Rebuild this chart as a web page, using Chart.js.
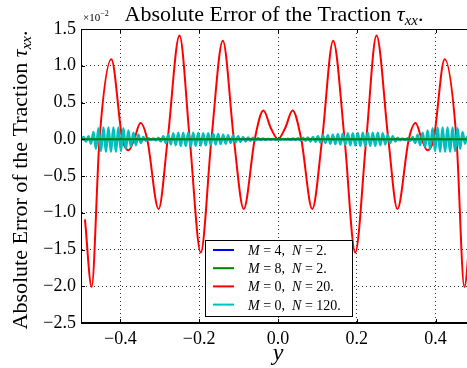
<!DOCTYPE html>
<html>
<head>
<meta charset="utf-8">
<script src="https://cdn.jsdelivr.net/npm/chart.js@4/dist/chart.umd.min.js"></script>
<style>
  html, body { margin: 0; padding: 0; background: #fff; overflow: hidden; }
  #wrap { position: absolute; left: 0; top: 0; width: 490px; height: 368px; }
</style>
</head>
<body>
<div id="wrap"><canvas id="chart" width="490" height="368"></canvas></div>
<script>
// ticks
const xTicks = [-0.4, -0.2, 0.0, 0.2, 0.4];
const yTicks = [-2.5, -2.0, -1.5, -1.0, -0.5, 0.0, 0.5, 1.0, 1.5];

// series (values x 1e-2)
const flatX = [-0.5, -0.25, 0.0, 0.25, 0.5];
const blueY = [0.0, 0.0, 0.0, 0.0, 0.0];
const greenY = [0.0, 0.0, 0.0, 0.0, 0.0];

const redX = [-0.49, -0.473, -0.453, -0.423, -0.395, -0.379, -0.365, -0.349, -0.332, -0.303,
  -0.280, -0.250, -0.224, -0.196, -0.169, -0.140, -0.112, -0.087, -0.059, -0.037, -0.018, 0.0,
  0.018, 0.037, 0.059, 0.087, 0.112, 0.140, 0.169, 0.196, 0.224, 0.250, 0.280, 0.303, 0.332,
  0.349, 0.365, 0.379, 0.395, 0.423, 0.453, 0.473, 0.49];
const redY = [-1.09, -2.01, 0.0, 1.09, 0.0, -0.15, 0.0, 0.22, 0.0, -0.95,
  0.0, 1.41, 0.0, -1.54, 0.0, 1.34, 0.0, -0.95, 0.0, 0.39, 0.15, 0.0,
  0.15, 0.39, 0.0, -0.95, 0.0, 1.34, 0.0, -1.54, 0.0, 1.41, 0.0, -0.95, 0.0,
  0.22, 0.0, -0.15, 0.0, 1.09, 0.0, -2.01, -1.09];

// cyan: peaks/troughs read every half period, from x = -0.5 to 0.5
const cyanStart = -0.5;
const cyanStep = 1 / 158;
const cyanY = [
  0.0, 0.03, -0.03, 0.04, -0.06, 0.10, -0.13, 0.15, -0.16, 0.16,
  -0.17, 0.16, -0.17, 0.16, -0.17, 0.16, -0.16, 0.15, -0.13, 0.12,
  -0.10, 0.09, -0.08, 0.06, -0.05, 0.03, -0.02, 0.015, -0.01, 0.01,
  -0.015, 0.02, -0.03, 0.04, -0.05, 0.06, -0.07, 0.08, -0.08, 0.09,
  -0.09, 0.09, -0.09, 0.09, -0.09, 0.09, -0.09, 0.085, -0.085, 0.08,
  -0.08, 0.08, -0.075, 0.075, -0.07, 0.07, -0.065, 0.06, -0.06, 0.055,
  -0.05, 0.05, -0.045, 0.04, -0.035, 0.03, -0.03, 0.025, -0.02, 0.02,
  -0.015, 0.012, -0.01, 0.01, -0.008, 0.006, -0.005, 0.005, -0.004, 0.0,
  -0.004, 0.005, -0.005, 0.006, -0.008, 0.01, -0.01, 0.012, -0.015, 0.02,
  -0.02, 0.025, -0.03, 0.03, -0.035, 0.04, -0.045, 0.05, -0.05, 0.055,
  -0.06, 0.06, -0.065, 0.07, -0.07, 0.075, -0.075, 0.08, -0.08, 0.08,
  -0.085, 0.085, -0.09, 0.09, -0.09, 0.09, -0.09, 0.09, -0.09, 0.09,
  -0.08, 0.08, -0.07, 0.06, -0.05, 0.04, -0.03, 0.02, -0.015, 0.01,
  -0.01, 0.015, -0.02, 0.03, -0.05, 0.06, -0.08, 0.09, -0.10, 0.12,
  -0.13, 0.15, -0.16, 0.16, -0.17, 0.16, -0.17, 0.16, -0.17, 0.16,
  -0.16, 0.15, -0.13, 0.10, -0.06, 0.04, -0.03, 0.03, 0.0
];

const serif = "'Liberation Serif', 'Times New Roman', serif";

function pts(xs, ys) {
  return ys.map((y, i) => ({ x: xs[i], y: y }));
}
const cyanPts = cyanY.map((y, i) => ({ x: cyanStart + i * cyanStep, y: y }));

// draw a run of text pieces with different fonts
function richWidth(ctx, parts) {
  let w = 0;
  parts.forEach(p => { ctx.font = p.font; w += ctx.measureText(p.t).width; });
  return w;
}
function drawRich(ctx, parts, x, y, align) {
  let w = richWidth(ctx, parts);
  let cx = align === "center" ? x - w / 2 : x;
  ctx.textAlign = "left";
  ctx.textBaseline = "alphabetic";
  parts.forEach(p => {
    ctx.font = p.font;
    ctx.fillText(p.t, cx, y + (p.dy || 0));
    cx += ctx.measureText(p.t).width;
  });
}

const titleParts = [
  { t: "Absolute Error of the Traction ", font: "22px " + serif },
  { t: "τ", font: "italic 22px " + serif },
  { t: "xx", font: "italic 15px " + serif, dy: 4 },
  { t: ".", font: "22px " + serif }
];

const legendItems = [
  { color: "#0000ff", m: "4", n: "2." },
  { color: "#008000", m: "8", n: "2." },
  { color: "#ff0000", m: "0", n: "20." },
  { color: "#00bfbf", m: "0", n: "120." }
];

const decorPlugin = {
  id: "decor",
  afterDraw(chart) {
    const ctx = chart.ctx;
    const a = chart.chartArea;
    const xs = chart.scales.x, ys = chart.scales.y;
    ctx.save();
    ctx.fillStyle = "#000";
    ctx.strokeStyle = "#000";

    // frame
    ctx.lineWidth = 1;
    ctx.strokeRect(a.left + 0.5, a.top + 0.5, a.right - a.left - 1, a.bottom - a.top - 1);

    // inward ticks
    ctx.beginPath();
    xTicks.forEach(v => {
      const px = Math.round(xs.getPixelForValue(v)) + 0.5;
      ctx.moveTo(px, a.bottom); ctx.lineTo(px, a.bottom - 4);
      ctx.moveTo(px, a.top); ctx.lineTo(px, a.top + 4);
    });
    yTicks.forEach(v => {
      const py = Math.round(ys.getPixelForValue(v)) + 0.5;
      ctx.moveTo(a.left, py); ctx.lineTo(a.left + 4, py);
      ctx.moveTo(a.right, py); ctx.lineTo(a.right - 4, py);
    });
    ctx.stroke();

    // title
    drawRich(ctx, titleParts, 274, 21, "center");

    // y axis label
    ctx.save();
    ctx.translate(27, (a.top + a.bottom) / 2 + 4);
    ctx.rotate(-Math.PI / 2);
    drawRich(ctx, titleParts, 0, 0, "center");
    ctx.restore();

    // x axis label
    ctx.font = "italic 24px " + serif;
    ctx.textAlign = "center";
    ctx.fillText("y", 278, 360);

    // offset text
    drawRich(ctx, [
      { t: "×10", font: "11px " + serif },
      { t: "−2", font: "8px " + serif, dy: -5 }
    ], a.left + 2, 21, "left");

    // legend
    const bx = 205.5, by = 240.5, bw = 147, bh = 76;
    ctx.fillStyle = "#fff";
    ctx.fillRect(bx, by, bw, bh);
    ctx.strokeStyle = "#000";
    ctx.lineWidth = 1;
    ctx.strokeRect(bx, by, bw, bh);
    legendItems.forEach((it, i) => {
      const ry = 250 + i * 18.2;
      ctx.strokeStyle = it.color;
      ctx.lineWidth = 2;
      ctx.beginPath();
      ctx.moveTo(213, ry); ctx.lineTo(234, ry);
      ctx.stroke();
      ctx.fillStyle = "#000";
      drawRich(ctx, [
        { t: "M", font: "italic 14px " + serif },
        { t: " = " + it.m + ",  ", font: "14px " + serif },
        { t: "N", font: "italic 14px " + serif },
        { t: " = " + it.n, font: "14px " + serif }
      ], 248, ry + 5, "left");
    });
    ctx.restore();
  }
};

const fmt = v => v.toFixed(1).replace("-", "−");

new Chart(document.getElementById("chart"), {
  type: "line",
  data: {
    datasets: [
      { label: "M = 4, N = 2.", data: pts(flatX, blueY), borderColor: "#0000ff", borderWidth: 2, order: 4 },
      { label: "M = 8, N = 2.", data: pts(flatX, greenY), borderColor: "#008000", borderWidth: 2, order: 1 },
      { label: "M = 0, N = 20.", data: pts(redX, redY), borderColor: "#ff0000", borderWidth: 2, order: 3 },
      { label: "M = 0, N = 120.", data: cyanPts, borderColor: "#00bfbf", borderWidth: 2.5, order: 2 }
    ]
  },
  options: {
    responsive: false,
    animation: false,
    layout: { padding: { left: 0, right: 15, top: 29, bottom: 0 } },
    elements: {
      point: { radius: 0 },
      line: { cubicInterpolationMode: "monotone", fill: false }
    },
    plugins: { legend: { display: false }, title: { display: false }, tooltip: { enabled: false } },
    scales: {
      x: {
        type: "linear",
        min: -0.5,
        max: 0.5,
        afterBuildTicks: s => { s.ticks = xTicks.map(v => ({ value: v })); },
        afterFit: s => { s.height = 45; },
        ticks: { callback: fmt, color: "#000", font: { family: serif, size: 18 }, padding: 5, maxRotation: 0 },
        grid: { color: "#000", lineWidth: 0.8, drawTicks: false },
        border: { color: "#000", width: 1, dash: [1, 3] }
      },
      y: {
        type: "linear",
        min: -2.5,
        max: 1.5,
        afterBuildTicks: s => { s.ticks = yTicks.map(v => ({ value: v })); },
        afterFit: s => { s.width = 81; },
        ticks: { callback: fmt, color: "#000", font: { family: serif, size: 18 }, padding: 5 },
        grid: { color: "#000", lineWidth: 0.8, drawTicks: false },
        border: { color: "#000", width: 1, dash: [1, 3] }
      }
    }
  },
  plugins: [decorPlugin]
});
</script>
</body>
</html>
